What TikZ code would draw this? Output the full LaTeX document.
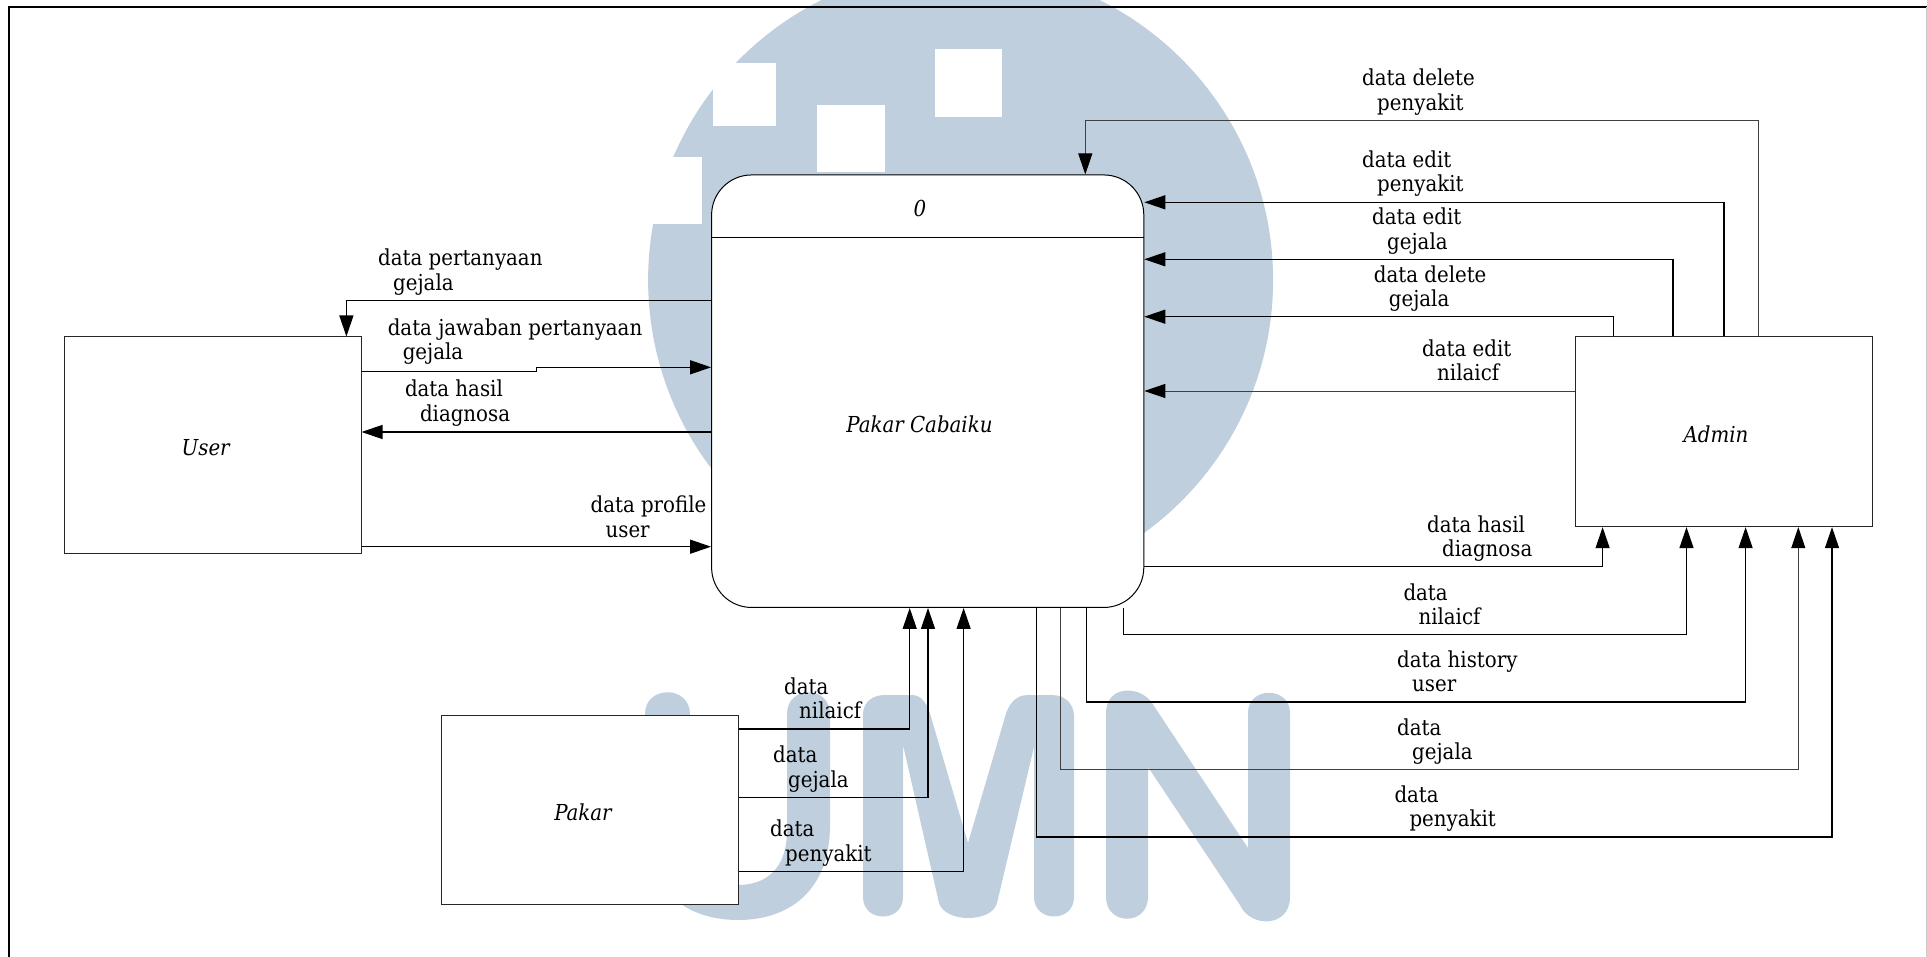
\documentclass[tikz,border=0pt]{standalone}
\usepackage{fontspec}
\setmainfont{DejaVu Serif Condensed}
\usetikzlibrary{arrows.meta}
\definecolor{umnblue}{HTML}{BFCFDD}
\tikzset{
    entity/.style={draw=black!85, line width=1pt, fill=white, inner sep=0pt},
    process/.style={draw=black, line width=1pt, fill=white, inner sep=0pt, rounded corners=40pt},
    flow/.style={draw=black, line width=1.3pt, -{Triangle[length=21pt, width=14pt, black]}},
    thinflow/.style={flow, draw=black!75, line width=1pt},
    flowlabel/.style={anchor=west, align=left, inner sep=0pt, font=\fontsize{22}{24.5}\selectfont},
    nametext/.style={font=\fontsize{22}{24.5}\selectfont\itshape},
}
\newcommand{\twolines}[2]{\strut #1\\\hspace*{15pt}\strut #2}
\begin{document}
\begin{tikzpicture}[x=1pt, y=-1pt]
    \useasboundingbox (0,0) rectangle (1927,957);
    \clip (0,0) rectangle (1927,957);

    % Watermark
    \fill[umnblue] (960.6,280) circle (312.5);
    \fill[white] (713,63) rectangle (776,126);
    \fill[white] (817.4,104.7) rectangle (884.8,172.3);
    \fill[white] (934.8,49.3) rectangle (1002,116.7);
    \fill[white] (630,157) rectangle (701.8,224.3);
    \fill[umnblue] (645,714) .. controls (645,685) and (690,685) .. (690,714) -- (690,830) .. controls (690,870) and (712,885) .. (738,885) .. controls (765,885) and (787,870) .. (787,830) -- (787,714) .. controls (787,685) and (830,685) .. (830,714) -- (830,825) .. controls (830,890) and (790,920) .. (738,920) .. controls (686,920) and (645,890) .. (645,825) -- cycle;
    \fill[umnblue] (863,897) -- (863,715) .. controls (863,700) and (875,695) .. (885,695) -- (912,695) .. controls (922,695) and (928,705) .. (931,717) -- (968,843) -- (1005,717) .. controls (1008,705) and (1015,695) .. (1028,695) -- (1052,695) .. controls (1066,695) and (1074,705) .. (1074,716) -- (1074,897) .. controls (1074,923) and (1034,923) .. (1034,897) -- (1034,747) -- (997,903) .. controls (992,923) and (945,923) .. (939,903) -- (903,745) -- (903,897) .. controls (903,923) and (863,923) .. (863,897) -- cycle;
    \fill[umnblue] (1106,713) .. controls (1106,685) and (1140,685) .. (1152,703) -- (1248,848) -- (1248,713) .. controls (1248,686) and (1290,686) .. (1290,713) -- (1290,897) .. controls (1290,928) and (1250,928) .. (1240,905) -- (1148,767) -- (1148,897) .. controls (1148,926) and (1106,926) .. (1106,897) -- cycle;

    % Frame
    \draw[black, line width=2pt] (8.6,957) -- (8.6,7.3) -- (1927,7.3);
    \draw[black!20, line width=1pt] (1926,7.3) -- (1926,957);

    % Entitas dan proses
    \node[process, minimum width=432.2pt, minimum height=432.5pt] (main) at (927.7,391.2) {};
    \draw[line width=1pt] (main.west |- 0,237.7) -- (main.east |- 0,237.7);
    \node[nametext] (title) at (920,208) {0};
    \node[nametext] (maintext) at (919.5,424) {Pakar Cabaiku};
    \node[entity, minimum width=297pt, minimum height=216pt] (user) at (212.5,445) {};
    \node[nametext] (usertext) at (205.7,448) {User};
    \node[entity, minimum width=297pt, minimum height=189.7pt] (admin) at (1724,431.8) {};
    \node[nametext] (admintext) at (1716,434) {Admin};
    \node[entity, minimum width=296.8pt, minimum height=189pt] (pakar) at (590.2,810.2) {};
    \node[nametext] (pakartext) at (583,812.7) {Pakar};

    % User
    \draw[flow] (main.west |- 0,300.3) -| (346.4,0 |- user.north);
    \draw[flow] (user.east |- 0,371.7) -- (536.4,371.7) -- (536.4,367.3) -- (main.west |- 0,367.3);
    \draw[flow] (main.west |- 0,432) -- (user.east |- 0,432);
    \draw[flow] (user.east |- 0,546.7) -- (main.west |- 0,546.7);
    \node[flowlabel] (lblpertanyaan) at (378,273) {\twolines{data pertanyaan}{gejala}};
    \node[flowlabel] (lbljawaban) at (387.6,342.7) {\twolines{data jawaban pertanyaan}{gejala}};
    \node[flowlabel] (lblhasiluser) at (404.8,404) {\twolines{data hasil}{diagnosa}};
    \node[flowlabel] (lblprofile) at (590.4,520) {\twolines{data profile}{user}};

    % Admin ke proses
    \draw[thinflow] (1758,0 |- admin.north) |- (1085.3,120.7) -- (1085.3,0 |- main.north);
    \draw[flow] (1724,0 |- admin.north) |- (main.east |- 0,202.3);
    \draw[flow] (1673,0 |- admin.north) |- (main.east |- 0,259.3);
    \draw[flow] (1613.6,0 |- admin.north) |- (main.east |- 0,316.7);
    \draw[thinflow] (admin.west |- 0,391) -- (main.east |- 0,391);
    \node[flowlabel] (lbldelpenyakit) at (1362,93) {\twolines{data delete}{penyakit}};
    \node[flowlabel] (lbleditpenyakit) at (1362,174.7) {\twolines{data edit}{penyakit}};
    \node[flowlabel] (lbleditgejala) at (1372,232) {\twolines{data edit}{gejala}};
    \node[flowlabel] (lbldelgejala) at (1373.7,289.4) {\twolines{data delete}{gejala}};
    \node[flowlabel] (lbleditnilai) at (1422,363.4) {\twolines{data edit}{nilaicf}};

    % Proses ke admin
    \draw[flow] (main.east |- 0,566.7) -| (1602.6,0 |- admin.south);
    \draw[flow] (1123.7,0 |- main.south) |- (1686.5,634.7) -- (1686.5,0 |- admin.south);
    \draw[flow] (1086.5,0 |- main.south) |- (1745.6,702) -- (1745.6,0 |- admin.south);
    \draw[thinflow] (1060,0 |- main.south) |- (1798.3,769.7) -- (1798.3,0 |- admin.south);
    \draw[flow] (1036.5,0 |- main.south) |- (1832,837) -- (1832,0 |- admin.south);
    \node[flowlabel] (lblhasiladmin) at (1427,539.4) {\twolines{data hasil}{diagnosa}};
    \node[flowlabel] (lblnilaiadmin) at (1403.3,607.4) {\twolines{data}{nilaicf}};
    \node[flowlabel] (lblhistory) at (1397,674.7) {\twolines{data history}{user}};
    \node[flowlabel] (lblgejalaadmin) at (1397,742.4) {\twolines{data}{gejala}};
    \node[flowlabel] (lblpenyakitadmin) at (1394.3,809.7) {\twolines{data}{penyakit}};

    % Pakar
    \draw[flow] (pakar.east |- 0,729) -| (909.7,0 |- main.south);
    \draw[flow] (pakar.east |- 0,797.3) -| (928,0 |- main.south);
    \draw[flow] (pakar.east |- 0,871.7) -| (963.6,0 |- main.south);
    \node[flowlabel] (lblnilaipakar) at (784,701.4) {\twolines{data}{nilaicf}};
    \node[flowlabel] (lblgejalapakar) at (773,770) {\twolines{data}{gejala}};
    \node[flowlabel] (lblpenyakitpakar) at (770,844) {\twolines{data}{penyakit}};
\end{tikzpicture}
\end{document}
